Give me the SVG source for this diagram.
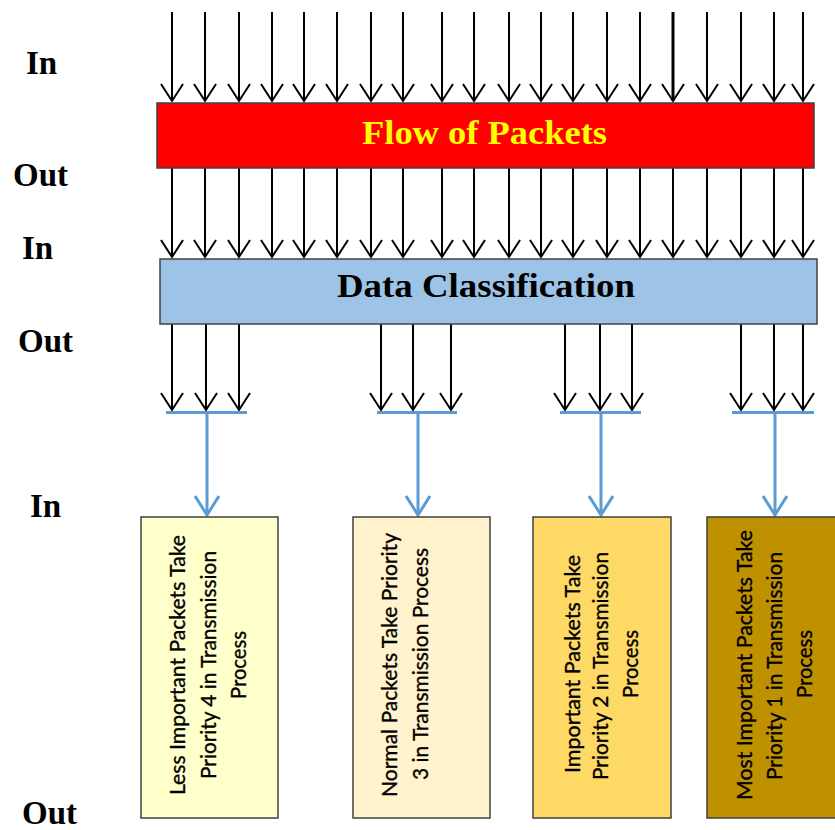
<svg xmlns="http://www.w3.org/2000/svg" width="835" height="830" viewBox="0 0 835 830">
  <style>
    .lbl { font-family: "Liberation Serif", "Times New Roman", serif; font-weight: bold; font-size: 33px; fill: #000; }
    .bar-title { font-family: "Liberation Serif", "Times New Roman", serif; font-weight: bold; font-size: 34px; text-anchor: middle; }
    .box-text { font-family: Lato, "Open Sans", "Liberation Sans", sans-serif; font-size: 22px; fill: #000; stroke: #000; stroke-width: 0.35; text-anchor: middle; }
    .box { stroke: #404040; stroke-width: 1.5; }
    .flow { stroke: #000; stroke-width: 2; fill: none; marker-end: url(#blackHead); }
    .flow-bold { stroke-width: 3; }
    .merge { stroke: #5B9BD5; stroke-width: 3; fill: none; }
    .merge-arrow { stroke: #5B9BD5; stroke-width: 3; fill: none; marker-end: url(#blueHead); }
  </style>
  <defs>
    <marker id="blackHead" markerUnits="userSpaceOnUse" markerWidth="40" markerHeight="40" refX="0" refY="0" orient="auto" overflow="visible">
      <path d="M-17,-11 L0,0 L-17,11" fill="none" stroke="#000" stroke-width="2"/>
    </marker>
    <marker id="blueHead" markerUnits="userSpaceOnUse" markerWidth="40" markerHeight="40" refX="0" refY="0" orient="auto" overflow="visible">
      <path d="M-19,-12 L0,0 L-19,12" fill="none" stroke="#5B9BD5" stroke-width="3"/>
    </marker>
  </defs>

  <rect width="835" height="830" fill="#fff"/>

  <!-- side labels -->
  <g id="stage-labels">
    <text class="lbl" x="26" y="74">In</text>
    <text class="lbl" x="13" y="186">Out</text>
    <text class="lbl" x="22" y="259">In</text>
    <text class="lbl" x="18" y="352">Out</text>
    <text class="lbl" x="30" y="517">In</text>
    <text class="lbl" x="22" y="824">Out</text>
  </g>

  <!-- connectors -->
  <g id="connectors">
    <!-- incoming packets -->
    <g id="incoming">
      <line class="flow" x1="172" y1="12" x2="172" y2="101"/>
      <line class="flow" x1="205" y1="12" x2="205" y2="101"/>
      <line class="flow" x1="239" y1="12" x2="239" y2="101"/>
      <line class="flow" x1="272" y1="12" x2="272" y2="101"/>
      <line class="flow" x1="304" y1="12" x2="304" y2="101"/>
      <line class="flow" x1="337" y1="12" x2="337" y2="101"/>
      <line class="flow" x1="371" y1="12" x2="371" y2="101"/>
      <line class="flow" x1="403" y1="12" x2="403" y2="101"/>
      <line class="flow" x1="442" y1="12" x2="442" y2="101"/>
      <line class="flow" x1="474" y1="12" x2="474" y2="101"/>
      <line class="flow" x1="509" y1="12" x2="509" y2="101"/>
      <line class="flow" x1="541" y1="12" x2="541" y2="101"/>
      <line class="flow" x1="573" y1="12" x2="573" y2="101"/>
      <line class="flow" x1="607" y1="12" x2="607" y2="101"/>
      <line class="flow" x1="640" y1="12" x2="640" y2="101"/>
      <line class="flow flow-bold" x1="673" y1="12" x2="673" y2="101"/>
      <line class="flow" x1="707" y1="12" x2="707" y2="101"/>
      <line class="flow" x1="741" y1="12" x2="741" y2="101"/>
      <line class="flow" x1="774" y1="12" x2="774" y2="101"/>
      <line class="flow" x1="803" y1="12" x2="803" y2="101"/>
    </g>
    <!-- packets into classification -->
    <g id="to-classification">
      <line class="flow" x1="172" y1="168" x2="172" y2="257"/>
      <line class="flow" x1="205" y1="168" x2="205" y2="257"/>
      <line class="flow" x1="239" y1="168" x2="239" y2="257"/>
      <line class="flow" x1="272" y1="168" x2="272" y2="257"/>
      <line class="flow" x1="304" y1="168" x2="304" y2="257"/>
      <line class="flow" x1="337" y1="168" x2="337" y2="257"/>
      <line class="flow" x1="371" y1="168" x2="371" y2="257"/>
      <line class="flow" x1="403" y1="168" x2="403" y2="257"/>
      <line class="flow" x1="442" y1="168" x2="442" y2="257"/>
      <line class="flow" x1="474" y1="168" x2="474" y2="257"/>
      <line class="flow" x1="509" y1="168" x2="509" y2="257"/>
      <line class="flow" x1="541" y1="168" x2="541" y2="257"/>
      <line class="flow" x1="573" y1="168" x2="573" y2="257"/>
      <line class="flow" x1="607" y1="168" x2="607" y2="257"/>
      <line class="flow" x1="640" y1="168" x2="640" y2="257"/>
      <line class="flow" x1="673" y1="168" x2="673" y2="257"/>
      <line class="flow" x1="707" y1="168" x2="707" y2="257"/>
      <line class="flow" x1="741" y1="168" x2="741" y2="257"/>
      <line class="flow" x1="774" y1="168" x2="774" y2="257"/>
      <line class="flow" x1="803" y1="168" x2="803" y2="257"/>
    </g>
    <!-- classified groups -->
    <g id="classified">
      <line class="flow" x1="172" y1="324" x2="172" y2="410"/>
      <line class="flow" x1="206" y1="324" x2="206" y2="410"/>
      <line class="flow" x1="239" y1="324" x2="239" y2="410"/>
      <line class="flow" x1="381" y1="324" x2="381" y2="410"/>
      <line class="flow" x1="413" y1="324" x2="413" y2="410"/>
      <line class="flow" x1="451" y1="324" x2="451" y2="410"/>
      <line class="flow" x1="565" y1="324" x2="565" y2="410"/>
      <line class="flow" x1="600" y1="324" x2="600" y2="410"/>
      <line class="flow" x1="632" y1="324" x2="632" y2="410"/>
      <line class="flow" x1="741" y1="324" x2="741" y2="410"/>
      <line class="flow" x1="774" y1="324" x2="774" y2="410"/>
      <line class="flow" x1="803" y1="324" x2="803" y2="410"/>
    </g>
    <!-- merge bars and feeds to the priority queues -->
    <g id="merges">
      <line class="merge" x1="166" y1="412.5" x2="247" y2="412.5"/>
      <line class="merge-arrow" x1="207" y1="412" x2="207" y2="515"/>
      <line class="merge" x1="377" y1="412.5" x2="457" y2="412.5"/>
      <line class="merge-arrow" x1="418" y1="412" x2="418" y2="515"/>
      <line class="merge" x1="560" y1="412.5" x2="641" y2="412.5"/>
      <line class="merge-arrow" x1="601" y1="412" x2="601" y2="515"/>
      <line class="merge" x1="732" y1="412.5" x2="814" y2="412.5"/>
      <line class="merge-arrow" x1="775" y1="412" x2="775" y2="515"/>
    </g>
  </g>

  <!-- processing stages -->
  <g id="flow-of-packets">
    <rect class="box" x="157" y="103" width="657" height="65" fill="#FF0000"/>
    <text class="bar-title" x="484.5" y="144" fill="#FFFF00" textLength="245" lengthAdjust="spacingAndGlyphs">Flow of Packets</text>
  </g>
  <g id="data-classification">
    <rect class="box" x="160" y="259" width="657" height="65" fill="#9DC3E6"/>
    <text class="bar-title" x="486" y="297" fill="#000" textLength="298" lengthAdjust="spacingAndGlyphs">Data Classification</text>
  </g>

  <!-- priority queues -->
  <g id="priority-4">
    <rect class="box" x="141" y="517" width="137" height="301" fill="#FFFFCC"/>
    <text class="box-text" transform="translate(185,665) rotate(-90)" textLength="260" lengthAdjust="spacingAndGlyphs">Less Important Packets Take</text>
    <text class="box-text" transform="translate(216,665) rotate(-90)" textLength="228" lengthAdjust="spacingAndGlyphs">Priority 4 in Transmission</text>
    <text class="box-text" transform="translate(246,665) rotate(-90)" textLength="68" lengthAdjust="spacingAndGlyphs">Process</text>
  </g>
  <g id="priority-3">
    <rect class="box" x="353" y="517" width="137" height="301" fill="#FFF2CC"/>
    <text class="box-text" transform="translate(397,665) rotate(-90)" textLength="264" lengthAdjust="spacingAndGlyphs">Normal Packets Take Priority</text>
    <text class="box-text" transform="translate(428,664) rotate(-90)" textLength="232" lengthAdjust="spacingAndGlyphs">3 in Transmission Process</text>
  </g>
  <g id="priority-2">
    <rect class="box" x="533" y="517" width="138" height="301" fill="#FFD966"/>
    <text class="box-text" transform="translate(580,664) rotate(-90)" textLength="218" lengthAdjust="spacingAndGlyphs">Important Packets Take</text>
    <text class="box-text" transform="translate(608,666) rotate(-90)" textLength="228" lengthAdjust="spacingAndGlyphs">Priority 2 in Transmission</text>
    <text class="box-text" transform="translate(638,664) rotate(-90)" textLength="68" lengthAdjust="spacingAndGlyphs">Process</text>
  </g>
  <g id="priority-1">
    <rect class="box" x="707" y="517" width="130" height="301" fill="#BF9000"/>
    <text class="box-text" transform="translate(752,665) rotate(-90)" textLength="270" lengthAdjust="spacingAndGlyphs">Most Important Packets Take</text>
    <text class="box-text" transform="translate(782,666) rotate(-90)" textLength="228" lengthAdjust="spacingAndGlyphs">Priority 1 in Transmission</text>
    <text class="box-text" transform="translate(812,664) rotate(-90)" textLength="68" lengthAdjust="spacingAndGlyphs">Process</text>
  </g>
</svg>
